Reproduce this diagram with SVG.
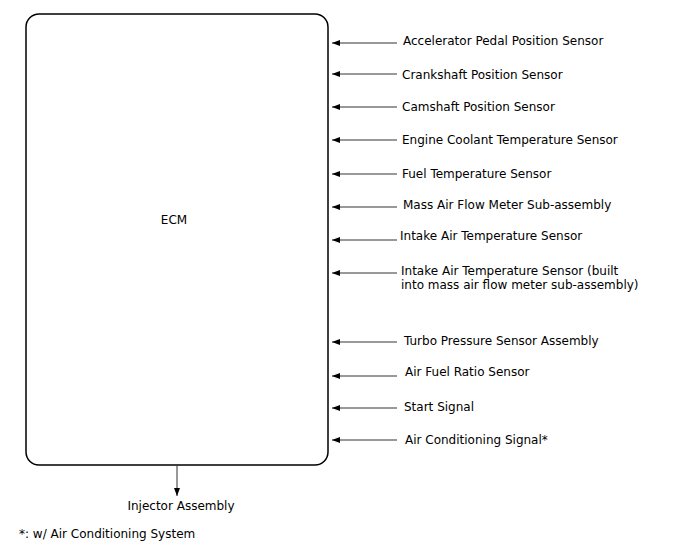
<svg xmlns="http://www.w3.org/2000/svg" width="688" height="560" viewBox="0 0 688 560">
<style>
text{font-family:"DejaVu Sans",sans-serif;font-size:12px;fill:#000}
.c{stroke:#333;stroke-width:1;fill:none}
</style>
<defs>
<marker id="ah" markerWidth="8" markerHeight="6" refX="8" refY="3" orient="auto" markerUnits="userSpaceOnUse">
<path d="M0,0 L8,3 L0,6 Z" fill="#000"/>
</marker>
</defs>
<rect width="688" height="560" fill="#fff"/>
<g id="ecm">
<rect x="26" y="14" width="302" height="451" rx="13" ry="13" fill="#fff" stroke="#000" stroke-width="1.5"/>
<text x="174" y="224" text-anchor="middle">ECM</text>
</g>
<g id="connectors">
<line class="c" x1="397" y1="43" x2="332" y2="43" marker-end="url(#ah)"/>
<line class="c" x1="397" y1="74" x2="332" y2="74" marker-end="url(#ah)"/>
<line class="c" x1="397" y1="107" x2="332" y2="107" marker-end="url(#ah)"/>
<line class="c" x1="397" y1="140" x2="332" y2="140" marker-end="url(#ah)"/>
<line class="c" x1="397" y1="174" x2="332" y2="174" marker-end="url(#ah)"/>
<line class="c" x1="397" y1="207" x2="332" y2="207" marker-end="url(#ah)"/>
<line class="c" x1="397" y1="240" x2="332" y2="240" marker-end="url(#ah)"/>
<line class="c" x1="397" y1="273" x2="332" y2="273" marker-end="url(#ah)"/>
<line class="c" x1="397" y1="342" x2="332" y2="342" marker-end="url(#ah)"/>
<line class="c" x1="397" y1="376" x2="332" y2="376" marker-end="url(#ah)"/>
<line class="c" x1="397" y1="408" x2="332" y2="408" marker-end="url(#ah)"/>
<line class="c" x1="397" y1="440" x2="332" y2="440" marker-end="url(#ah)"/>
<line class="c" x1="177" y1="465" x2="177" y2="496" marker-end="url(#ah)"/>
</g>
<g id="app"><text x="403" y="45">Accelerator Pedal Position Sensor</text></g>
<g id="ckp"><text x="402" y="79">Crankshaft Position Sensor</text></g>
<g id="cmp"><text x="402" y="111">Camshaft Position Sensor</text></g>
<g id="ect"><text x="402" y="144">Engine Coolant Temperature Sensor</text></g>
<g id="fuel"><text x="402" y="178">Fuel Temperature Sensor</text></g>
<g id="maf"><text x="403" y="209">Mass Air Flow Meter Sub-assembly</text></g>
<g id="iat"><text x="400" y="240">Intake Air Temperature Sensor</text></g>
<g id="iat2"><text x="401" y="275">Intake Air Temperature Sensor (built</text><text x="401" y="289">into mass air flow meter sub-assembly)</text></g>
<g id="turbo"><text x="404" y="345">Turbo Pressure Sensor Assembly</text></g>
<g id="afr"><text x="405" y="376">Air Fuel Ratio Sensor</text></g>
<g id="start"><text x="404" y="411">Start Signal</text></g>
<g id="ac"><text x="405" y="444">Air Conditioning Signal*</text></g>
<g id="injector"><text x="181" y="510" text-anchor="middle">Injector Assembly</text></g>
<g id="note"><text x="19" y="538">*: w/ Air Conditioning System</text></g>
</svg>
